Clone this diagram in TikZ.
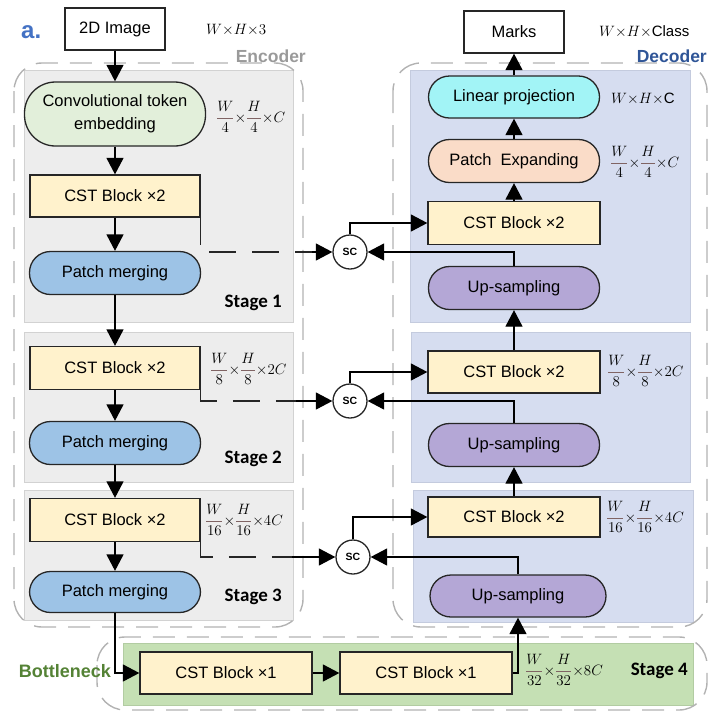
\documentclass[tikz,border=0pt]{standalone}
\usepackage{fix-cm}
\usepackage{amsmath}
\usepackage{fontspec}
\setmainfont{Liberation Sans}
\newfontfamily\stagefont{Carlito}
\usetikzlibrary{arrows.meta}
\definecolor{encbg}{HTML}{EDEDED}
\definecolor{encline}{HTML}{D2D2D2}
\definecolor{decbg}{HTML}{D6DDF0}
\definecolor{decline}{HTML}{C4CBDE}
\definecolor{botbg}{HTML}{C5E0B4}
\definecolor{botline}{HTML}{B2CCA2}
\definecolor{cstfill}{HTML}{FFF2CC}
\definecolor{convfill}{HTML}{E2EFDA}
\definecolor{mergefill}{HTML}{9DC3E6}
\definecolor{linfill}{HTML}{A2F4F6}
\definecolor{expfill}{HTML}{FADCC8}
\definecolor{upfill}{HTML}{B4A7D6}
\definecolor{fracbar}{HTML}{806464}
\definecolor{encword}{HTML}{9A9A9A}
\definecolor{decword}{HTML}{2F5597}
\definecolor{panelblue}{HTML}{4472C4}
\definecolor{botword}{HTML}{548235}
\newcommand{\dimfrac}[2]{{\color{fracbar}\dfrac{\color{black}#1}{\color{black}#2}}}

\begin{document}
\begin{tikzpicture}[x=1pt,y=-1pt,font=\fontsize{16.5}{20}\selectfont,
  box/.style={draw=black!85,line width=1.3pt,minimum width=170pt,minimum height=42pt,inner sep=0pt},
  cstbox/.style={box,fill=cstfill},
  pill/.style={box,minimum width=171pt,minimum height=43pt,rounded corners=21pt},
  arr/.style={line width=1.3pt,-{Triangle[length=16.5pt,width=17pt]}},
  skipline/.style={line width=1.3pt,black!85,dash pattern=on 27pt off 16pt},
  dimlbl/.style={anchor=west,inner sep=0pt,font=\fontsize{15}{17}\selectfont},
  stagelbl/.style={anchor=east,inner sep=0pt,font=\stagefont\bfseries\fontsize{19}{22}\selectfont},
  outline/.style={draw=black!30,line width=1.4pt,dash pattern=on 22pt off 12pt,rounded corners=28pt},
  scnode/.style={circle,draw=black!85,line width=1.3pt,fill=white,minimum size=34pt,inner sep=0pt,font=\bfseries\fontsize{10.5}{12}\selectfont}]
  \useasboundingbox (0,0) rectangle (718,713);

  % stage panels
  \filldraw[fill=encbg,draw=encline,line width=1pt] (24,70) rectangle (293,322);
  \filldraw[fill=encbg,draw=encline,line width=1pt] (24,332) rectangle (293,482);
  \filldraw[fill=encbg,draw=encline,line width=1pt] (24,490) rectangle (293,620);
  \filldraw[fill=decbg,draw=decline,line width=1pt] (410,70) rectangle (690,322);
  \filldraw[fill=decbg,draw=decline,line width=1pt] (411,332) rectangle (690,482);
  \filldraw[fill=decbg,draw=decline,line width=1pt] (413,490) rectangle (693,622);
  \filldraw[fill=botbg,draw=botline,line width=1pt] (123,643) rectangle (693,705);

  % dashed outlines
  \draw[outline] (14,63) rectangle (303,627);
  \draw[outline] (393,63) rectangle (707,627);
  \draw[outline] (97,637) rectangle (707,710);

  % titles
  \node[anchor=base west,inner sep=0pt,text=panelblue,font=\bfseries\fontsize{24}{26}\selectfont] (panel) at (21,38) {a.};
  \node[anchor=east,inner sep=0pt,text=encword,font=\bfseries\fontsize{17.5}{20}\selectfont] (enc) at (306,56) {Encoder};
  \node[anchor=east,inner sep=0pt,text=decword,font=\bfseries\fontsize{17.5}{20}\selectfont] (dec) at (707,56) {Decoder};
  \node[anchor=east,inner sep=0pt,text=botword,font=\bfseries\fontsize{18}{20}\selectfont] (bot) at (111,671) {Bottleneck};

  % encoder
  \node[box,fill=white,minimum width=100pt] (img) at (115,29) {2D Image};
  \node[box,fill=convfill,minimum width=181pt,minimum height=64pt,rounded corners=31pt,align=center,font=\fontsize{16.5}{23}\selectfont] (conv) at (115,114) {Convolutional token\\embedding};
  \node[cstbox] (cstA) at (115,196) {CST Block ×2};
  \node[pill,fill=mergefill] (pmA) at (115,273) {Patch merging};
  \node[cstbox,minimum height=43pt] (cstB) at (115,368) {CST Block ×2};
  \node[pill,fill=mergefill] (pmB) at (115,443) {Patch merging};
  \node[cstbox,minimum height=43pt] (cstC) at (115,520) {CST Block ×2};
  \node[pill,fill=mergefill,minimum height=41pt] (pmC) at (115,592) {Patch merging};

  % bottleneck
  \node[cstbox,minimum width=172pt] (cstD) at (226,673) {CST Block ×1};
  \node[cstbox,minimum width=172pt] (cstE) at (426,673) {CST Block ×1};

  % decoder
  \node[box,fill=white,minimum width=100pt] (marks) at (514,32) {Marks};
  \node[pill,fill=linfill,minimum height=42pt] (linproj) at (514,97) {Linear projection};
  \node[pill,fill=expfill] (patchexp) at (514,161) {Patch\ \ Expanding};
  \node[cstbox,minimum width=172pt,minimum height=43pt] (cstF) at (514,223) {CST Block ×2};
  \node[pill,fill=upfill] (upA) at (514,288) {Up-sampling};
  \node[cstbox,minimum width=172pt] (cstG) at (514,372) {CST Block ×2};
  \node[pill,fill=upfill] (upB) at (514,445) {Up-sampling};
  \node[cstbox,minimum width=172pt,minimum height=40pt] (cstH) at (514,517) {CST Block ×2};
  \node[pill,fill=upfill,minimum width=176pt,minimum height=42pt] (upC) at (518,596) {Up-sampling};

  % skip-connection nodes
  \node[scnode] (scA) at (350,252) {SC};
  \node[scnode] (scB) at (350,401) {SC};
  \node[scnode] (scC) at (353,557) {SC};

  % feature sizes
  \node[dimlbl] (dimImg) at (206,30) {$W{\times}H{\times}3$};
  \node[dimlbl] (dimA) at (216,117) {$\dimfrac{W}{4}{\times}\dimfrac{H}{4}{\times}C$};
  \node[dimlbl] (dimB) at (210,369) {$\dimfrac{W}{8}{\times}\dimfrac{H}{8}{\times}2C$};
  \node[dimlbl] (dimC) at (205,520) {$\dimfrac{W}{16}{\times}\dimfrac{H}{16}{\times}4C$};
  \node[dimlbl] (dimD) at (525,670) {$\dimfrac{W}{32}{\times}\dimfrac{H}{32}{\times}8C$};
  \node[dimlbl] (dimOut) at (599,32) {$W{\times}H{\times}\mathrm{Class}$};
  \node[dimlbl] (dimLin) at (611,99) {$W{\times}H{\times}\mathrm{C}$};
  \node[dimlbl] (dimE) at (610,162) {$\dimfrac{W}{4}{\times}\dimfrac{H}{4}{\times}C$};
  \node[dimlbl] (dimF) at (607,371) {$\dimfrac{W}{8}{\times}\dimfrac{H}{8}{\times}2C$};
  \node[dimlbl] (dimG) at (606,517) {$\dimfrac{W}{16}{\times}\dimfrac{H}{16}{\times}4C$};

  % stage names
  \node[stagelbl] (stA) at (282,303) {Stage 1};
  \node[stagelbl] (stB) at (282,459) {Stage 2};
  \node[stagelbl] (stC) at (282,597) {Stage 3};
  \node[stagelbl] (stD) at (688,671) {Stage 4};

  % encoder path
  \draw[arr] (img) -- (conv);
  \draw[arr] (conv) -- (cstA);
  \draw[arr] (cstA) -- (pmA);
  \draw[arr] (pmA) -- (cstB);
  \draw[arr] (cstB) -- (pmB);
  \draw[arr] (pmB) -- (cstC);
  \draw[arr] (cstC) -- (pmC);
  \draw[arr] (pmC.south) |- (cstD.west);
  \draw[arr] (cstD) -- (cstE);
  \draw[arr] (cstE.east) -| (upC.south);

  % decoder path
  \draw[arr] (cstH) -- (upB);
  \draw[arr] (cstG) -- (upA);
  \draw[arr] (cstF) -- (patchexp);
  \draw[arr] (patchexp) -- (linproj);
  \draw[arr] (linproj) -- (marks);

  % skip connections
  \coordinate (sA) at (312,252);
  \coordinate (sB) at (296,401);
  \coordinate (sC) at (292,557);
  \draw[skipline] (cstA.south east) |- (sA);
  \draw[skipline] (cstB.south east) |- (sB);
  \draw[skipline] (cstC.south east) |- (sC);
  \draw[arr] (sA) -- (scA);
  \draw[arr] (sB) -- (scB);
  \draw[arr] (sC) -- (scC);
  \draw[arr] (upA.north) |- (scA.east);
  \draw[arr] (upB.north) |- (scB.east);
  \draw[arr] (upC.north) |- (scC.east);
  \draw[arr] (scA.north) |- (cstF.west);
  \draw[arr] (scB.north) |- (cstG.west);
  \draw[arr] (scC.north) |- (cstH.west);
\end{tikzpicture}
\end{document}
